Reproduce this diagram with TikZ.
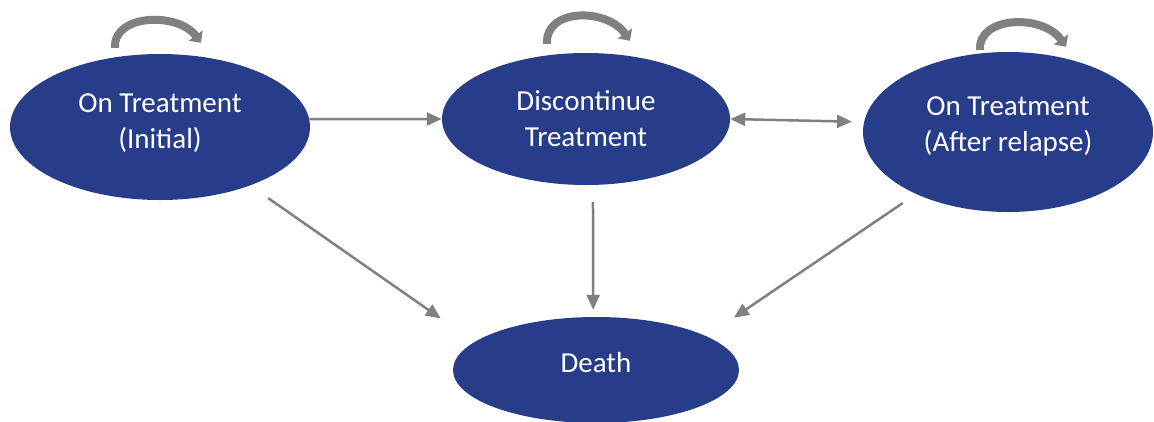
\documentclass[tikz,border=0pt]{standalone}
\usepackage{fontspec}
\setmainfont{Carlito}
\usetikzlibrary{arrows.meta, calc, shapes.geometric}
\definecolor{stateblue}{RGB}{40,61,138}
\definecolor{linkgray}{RGB}{128,128,128}

\begin{document}
\begin{tikzpicture}[
  x=1pt, y=-1pt,
  state/.style={ellipse, fill=stateblue, draw=none, inner sep=0pt,
                text=white, align=center, font=\fontsize{29}{36}\selectfont},
  >={Triangle[length=15pt, width=13pt]},
  link/.style={->, draw=linkgray, line width=2.5pt},
  selfloop/.style={-{Triangle[length=9pt, width=17pt]}, draw=linkgray, line width=8pt}
]
\useasboundingbox (0,0) rectangle (1154,421);

% ── States ──
\node[state, minimum width=300pt, minimum height=146pt, text depth=11pt] (ot1) at (160,127) {On Treatment\\(Initial)};
\node[state, minimum width=288pt, minimum height=132pt] (dt) at (586,119) {Discontinue\\Treatment};
\node[state, minimum width=290pt, minimum height=160pt, text depth=15pt] (ot2) at (1008,132) {On Treatment\\(After relapse)};
\node[state, minimum width=286pt, minimum height=106pt, text depth=16pt] (death) at (596,370) {Death};

% ── Staying in the same state ──
\draw[selfloop] ($(ot1.north)+(-45,-6)$) .. controls +(-2,-34) and +(-23,-31) .. ($(ot1.north)+(41,-11)$);
\draw[selfloop] ($(dt.north)+(-39,-9)$) .. controls +(-2,-36) and +(-23,-33) .. ($(dt.north)+(44,-12)$);
\draw[selfloop] ($(ot2.north)+(-28,-2)$) .. controls +(-2,-34) and +(-23,-33) .. ($(ot2.north)+(58,-5)$);

% ── Transitions ──
\draw[link] (ot1.3) -- (dt.west);
\draw[link, <->, shorten >=12pt] (dt.east) -- (ot2.176);
\draw[link, shorten <=22pt, shorten >=41pt] (ot1.-33) -- (death.167);
\draw[link, shorten <=17pt, shorten >=7pt] (dt.-84) -- (death.93);
\draw[link, shorten <=16pt, shorten >=33pt] (ot2.214) -- (death.17);

\end{tikzpicture}
\end{document}
